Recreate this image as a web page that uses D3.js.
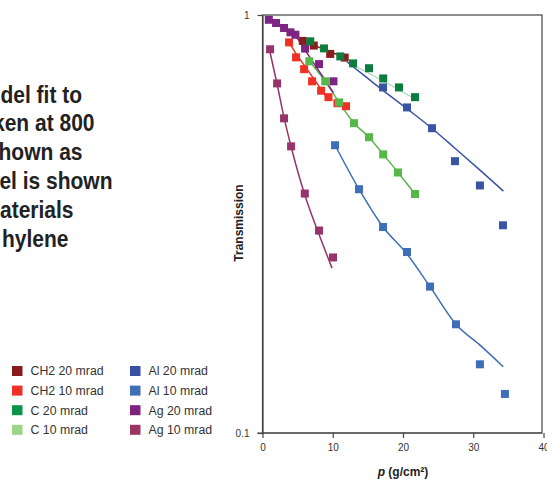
<!DOCTYPE html>
<html><head><meta charset="utf-8">
<script src="https://cdn.jsdelivr.net/npm/d3@7"></script>
<style>body{margin:0;background:#fff} svg{display:block;font-family:"Liberation Sans",Arial,sans-serif}</style>
</head><body><svg id="c" width="547" height="479"></svg>
<script>
// ---- data ----
const xTicks = [0, 10, 20, 30, 40];
const yTicks = [0.1, 1];
const introLines = ["del fit to", "ken at 800", "hown as", "el is shown", "aterials", "hylene"];

const seriesNames = ["CH2 20 mrad", "CH2 10 mrad", "C 20 mrad", "C 10 mrad", "Al 20 mrad", "Al 10 mrad", "Ag 20 mrad", "Ag 10 mrad"];

const ch2_20 = [[5.73,0.867],[7.3,0.845],[9.64,0.807],[11.7,0.791]];
const ch2_10 = [[3.78,0.860],[4.78,0.792],[5.92,0.742],[7.06,0.694],[8.34,0.659],[9.39,0.636],[10.67,0.615],[11.89,0.605]];
const c_20   = [[6.8,0.865],[8.76,0.832],[11.07,0.796],[12.89,0.766],[15.16,0.746],[17.18,0.705],[19.43,0.671],[21.71,0.636]];
const c_10   = [[6.66,0.775],[8.93,0.694],[10.9,0.618],[13.03,0.551],[15.16,0.510],[17.18,0.464],[19.29,0.420],[21.71,0.373]];
const al_20  = [[17.16,0.671],[20.57,0.601],[24.13,0.536],[27.4,0.447],[30.95,0.391],[34.23,0.314]];
const al_10  = [[10.33,0.488],[13.74,0.383],[17.16,0.311],[20.57,0.271],[23.84,0.224],[27.54,0.182],[30.95,0.146],[34.51,0.124]];
const ag_20  = [[0.9,0.974],[1.93,0.957],[3.07,0.931],[3.98,0.909],[4.69,0.897],[6.06,0.831],[8.05,0.763],[10.1,0.694]];
const ag_10  = [[1.08,0.828],[2.08,0.686],[3.07,0.566],[4.07,0.485],[6.02,0.374],[8.05,0.305],[10.04,0.263]];

// model fit curves
const fit_ch2_20 = [[5.73,0.867],[11.7,0.791]];
const fit_ch2_10 = [[3.9,0.853],[5,0.798],[6,0.756],[7,0.715],[8,0.677],[9.5,0.624]];
const fit_c_20   = [[12.5,0.765],[17.2,0.695],[21.2,0.637]];
const fit_c_10   = [[6.5,0.78],[8.93,0.694],[10.9,0.618],[13.03,0.551],[15.16,0.510],[17.18,0.464],[19.29,0.420],[21.71,0.373]];
const fit_al_20  = [[12.0,0.773],[14.5,0.716],[17.2,0.659],[20.6,0.596],[24.1,0.536],[27.4,0.480],[31,0.425],[34.3,0.379]];
const fit_al_10  = [[10.33,0.488],[13.74,0.383],[17.16,0.311],[20.57,0.268],[23.84,0.224],[27.54,0.182],[31,0.162],[34.28,0.144]];
const fit_ag_20  = [[0.9,0.978],[2,0.957],[3,0.935],[4,0.908],[5,0.877],[6,0.827],[7,0.780],[8,0.736],[9,0.695],[10.1,0.652]];
const fit_ag_10  = [[1.1,0.811],[2.1,0.68],[3.1,0.565],[4.1,0.482],[6.0,0.372],[8.0,0.300],[9.9,0.248]];

// ---- styles ----
const markerColors = ["#8b1a1c","#ee3124","#0c7d3e","#55b848","#3a54a5","#3d6eb8","#7e2483","#96346b"];
const legendColors = ["#8b1a1e","#ee3124","#0a9447","#9ed38a","#3a51a3","#3f6fb6","#7d237f","#9c3563"];
const fitColors    = ["#8b1a1c","#ee3124","#b7dcc2","#55b848","#3a54a5","#3d6eb8","#7e2483","#96346b"];

const points = [ch2_20, ch2_10, c_20, c_10, al_20, al_10, ag_20, ag_10];
const fits = [fit_ch2_20, fit_ch2_10, fit_c_20, fit_c_10, fit_al_20, fit_al_10, fit_ag_20, fit_ag_10];

const svg = d3.select("#c");
const L = 262.5, R = 543.5, T = 15, B = 433;
const x = d3.scaleLinear().domain([0, 40]).range([L, R]);
const y = d3.scaleLog().domain([0.1, 1]).range([B, T]);

// intro text (cut off on the left), condensed bold face
const introRight = [82, 94.5, 82.5, 112.5, 73.5, 68.5];
svg.append("g").selectAll("text").data(introLines).join("text")
  .attr("transform", (d, i) => `translate(${introRight[i]},${102.6 + i * 28.8}) scale(0.875,1)`)
  .attr("text-anchor", "end").attr("font-size", 24).attr("font-weight", "bold").attr("fill", "#222")
  .text(d => d);

// frame
svg.append("rect").attr("x", L).attr("y", T).attr("width", R - L - 1.5).attr("height", B - T)
  .attr("fill", "none").attr("stroke", "#444").attr("stroke-width", 1.2);

// axes
const xAxis = d3.axisBottom(x).tickValues(xTicks).tickSize(5).tickSizeOuter(0).tickPadding(6).tickFormat(d3.format("d"));
const gx = svg.append("g").attr("transform", `translate(0,${B})`).call(xAxis);
gx.select(".domain").attr("stroke", "#444").attr("stroke-width", 1.2).attr("d", `M${L - 5},0H${R - 1.5}`);
gx.selectAll(".tick line").attr("stroke", "#444").attr("stroke-width", 1.2);
gx.selectAll(".tick text").attr("font-size", 10).attr("fill", "#333").attr("font-family", "Liberation Sans, Arial, sans-serif");

const yAxis = d3.axisLeft(y).tickValues(yTicks).tickSize(5).tickSizeOuter(0).tickPadding(8).tickFormat(d => d === 1 ? "1" : "0.1");
const gy = svg.append("g").attr("transform", `translate(${L},0)`).call(yAxis);
gy.select(".domain").attr("stroke", "#444").attr("stroke-width", 1.2);
gy.selectAll(".tick line").attr("stroke", "#444").attr("stroke-width", 1.2);
gy.selectAll(".tick text").attr("font-size", 10).attr("fill", "#333").attr("font-family", "Liberation Sans, Arial, sans-serif");

// axis titles
svg.append("text").attr("transform", `translate(243,223) rotate(-90)`).attr("text-anchor", "middle")
  .attr("font-size", 12).attr("font-weight", "bold").attr("fill", "#222").text("Transmission");
const xt = svg.append("text").attr("x", x(20)).attr("y", 476).attr("text-anchor", "middle")
  .attr("font-size", 12).attr("font-weight", "bold").attr("fill", "#222");
xt.append("tspan").attr("font-style", "italic").text("p");
xt.append("tspan").text(" (g/cm²)");

// fit lines
const line = d3.line().x(d => x(d[0])).y(d => y(d[1])).curve(d3.curveMonotoneX);
svg.append("g").selectAll("path").data(fits).join("path")
  .attr("d", line).attr("fill", "none").attr("stroke", (d, i) => fitColors[i]).attr("stroke-width", 1.5);

// markers
const ms = 8;
const order = [0, 1, 6, 7, 2, 3, 4, 5];
order.forEach(i => {
  svg.append("g").selectAll("rect").data(points[i]).join("rect")
    .attr("x", d => x(d[0]) - ms / 2).attr("y", d => y(d[1]) - ms / 2)
    .attr("width", ms).attr("height", ms).attr("fill", markerColors[i]);
});

// legend
const lg = svg.append("g");
seriesNames.forEach((name, i) => {
  const col = Math.floor(i / 4), row = i % 4;
  const gx0 = 12 + col * 118, gy0 = 371 + row * 19.6;
  lg.append("rect").attr("x", gx0).attr("y", gy0 - 5).attr("width", 10.5).attr("height", 10).attr("fill", legendColors[i]);
  lg.append("text").attr("x", gx0 + 18.5).attr("y", gy0 + 4.3).attr("font-size", 12.3).attr("fill", "#333").text(name);
});
</script></body></html>
